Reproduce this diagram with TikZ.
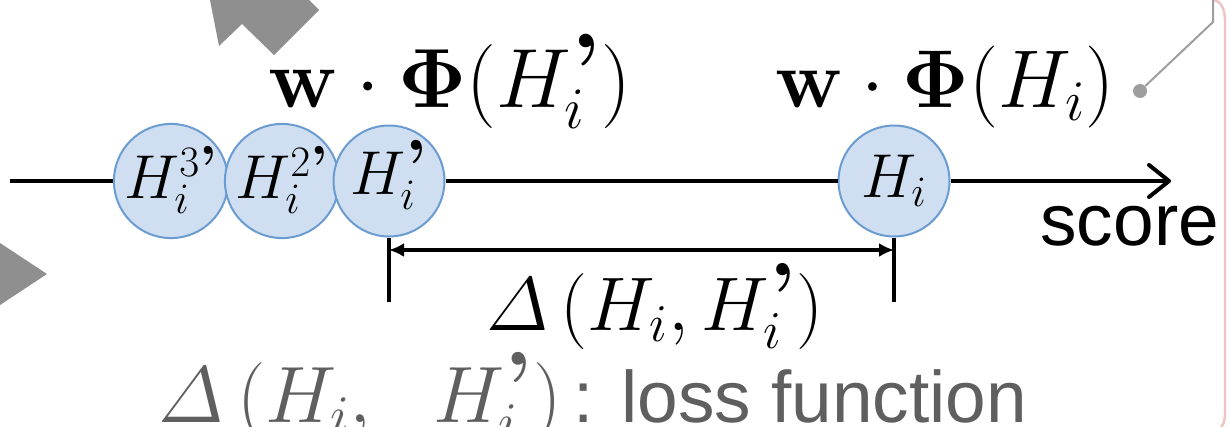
\RequirePackage{fix-cm}
\documentclass[tikz,border=0pt]{standalone}
\usepackage[no-math]{fontspec}
\usepackage{amsmath,bm,graphicx}
\newfontfamily\arialf{Liberation Sans}
\usetikzlibrary{arrows.meta}
\definecolor{cfill}{RGB}{207,223,241}
\definecolor{cdraw}{RGB}{106,155,209}
\definecolor{decogray}{RGB}{143,143,143}
\definecolor{linegray}{RGB}{158,158,158}
\definecolor{txtgray}{RGB}{95,95,95}
\definecolor{slidepink}{RGB}{238,196,196}
\newcommand{\qp}{\text{\smash{\raisebox{-0.38em}{\scalebox{1.6}{\bfseries ’}}}}}
\newcommand{\qpd}{\text{\smash{\raisebox{-0.22em}{\scalebox{1.3}{\bfseries ’}}}}}
\begin{document}
\begin{tikzpicture}[x=0.5pt,y=-0.5pt,
  hyp/.style={circle, draw=cdraw, fill=cfill, line width=1pt, minimum size=55.5pt, inner sep=0pt, font=\fontsize{31}{36}\selectfont},
  axisline/.style={line width=2pt},
  ticklin/.style={line width=2pt},
  dimline/.style={line width=2pt, {Latex[length=7.5pt,width=7pt]}-{Latex[length=7.5pt,width=7pt]}},
  lbl/.style={anchor=base, inner sep=0pt},
  deco/.style={fill=decogray}]
\fill[white] (0,0) rectangle (1229,427);
\useasboundingbox (0,0) rectangle (1229,427);

% slide decorations
\fill[deco] (210,0) -- (219,46) -- (242,24) -- (274,55) -- (319,10) -- (309,0) -- cycle;
\fill[deco] (0,243) -- (47,274) -- (0,305) -- cycle;
\draw[slidepink, line width=1.2pt] (1214,0) .. controls (1222,2) and (1225,10) .. (1225,22) -- (1225,412) .. controls (1225,420) and (1224,424) .. (1221,427);

% axis
\coordinate (start) at (10,181);
\coordinate (end) at (1171,181);
\node[hyp] (c3) at (171,181) {$H_i^{3\qpd}$};
\node[hyp] (c2) at (282,181) {$H_i^{2\qpd}$};
\node[hyp] (c1) at (389,181) {$H_i^{\qp}$};
\node[hyp] (ci) at (894,181) {$H_i$};
\draw[axisline] (start) -- (c3);
\draw[axisline] (c1) -- (ci);
\draw[axisline, -{Straight Barb[length=10pt,width=16pt,line cap=round,line join=round]}] (ci) -- (end);

% dimension
\draw[ticklin] (c1.south) -- ++(0,64) coordinate (t1);
\draw[ticklin] (ci.south) -- ++(0,64) coordinate (t2);
\coordinate (dimy) at (0,250);
\coordinate (d1) at (c1.south |- dimy);
\coordinate (d2) at (ci.south |- dimy);
\draw[dimline] (d1) -- (d2);

% labels
\node[lbl] (top1) at (450,108) {\fontsize{42}{48}\selectfont $\mathbf{w}\cdot\boldsymbol{\Phi}(H_i^{\qp})$};
\node[lbl] (top2) at (945,108) {\fontsize{41}{48}\selectfont $\mathbf{w}\cdot\boldsymbol{\Phi}(H_i)$};
\node[lbl] (dl) at (655,330) {\fontsize{38}{44}\selectfont $\varDelta\,(H_i, H_i^{\qp})$};
\node[lbl, anchor=base west] (score) at (1040,245) {\arialf\fontsize{36.5}{44}\selectfont score};
\node[lbl, anchor=base west, text=txtgray] (loss) at (158,422) {\fontsize{40}{48}\selectfont $\varDelta\,(H_i,\ \ H_i^{\qp})$\arialf\fontsize{36.5}{44}\selectfont\,: loss function};

% callout connector
\node[circle, fill=linegray, minimum size=7pt, inner sep=0pt] (dot) at (1140,91) {};
\coordinate (k1) at (1213,22);
\coordinate (k2) at (1213,0);
\draw[linegray, line width=1pt] (dot) -- (k1) -- (k2);
\end{tikzpicture}
\end{document}
